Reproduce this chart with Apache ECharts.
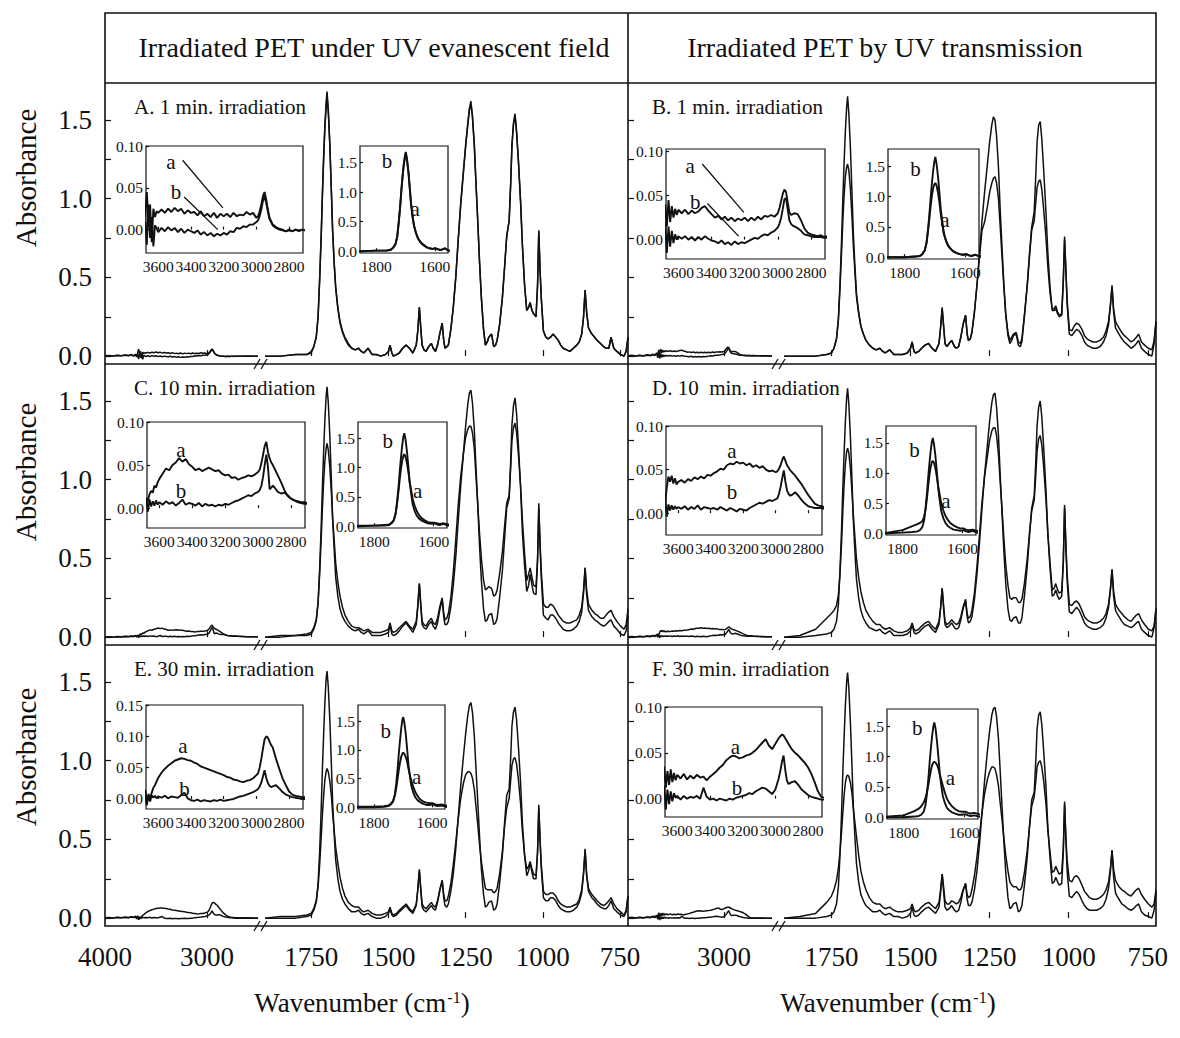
<!DOCTYPE html>
<html><head><meta charset="utf-8">
<script src="https://cdn.jsdelivr.net/npm/echarts/dist/echarts.min.js"></script>
<style>html,body{margin:0;padding:0;background:#fff}#c{width:1180px;height:1038px}</style>
</head><body><div id="c"></div>
<script>
// ---------------- DATA ----------------
const W_HI = [4000,3960,3920,3880,3840,3800,3770,3740,3720,3700,
3690,3680,3670,3660,3650,3640,3630,3620,3610,3600,
3580,3560,3540,3520,3500,3480,3460,3440,3420,3400,
3380,3360,3340,3320,3300,3280,3260,3240,3220,3200,
3180,3160,3140,3120,3100,3080,3060,3040,3020,3000,
2990,2980,2970,2960,2950,2940,2930,2920,2910,2900,
2880,2860,2840,2820,2800,2780,2760,2740,2720,2700,
2650,2600,2550,2500];

const W_LO = [1900,1850,1800,1765,1750,1742,1734,1728,1723,1718,
1714,1710,1706,1702,1699,1695,1690,1685,1681,1676,
1671,1664,1657,1649,1641,1630,1619,1608,1597,1588,
1580,1566,1553,1540,1525,1510,1500,1495,1489,1484,
1474,1465,1454,1443,1432,1421,1410,1405,1400,1395,
1391,1385,1378,1370,1361,1355,1348,1341,1334,1326,
1321,1317,1311,1306,1298,1290,1282,1274,1266,1257,
1250,1243,1238,1233,1228,1222,1217,1211,1205,1199,
1192,1186,1180,1175,1166,1159,1153,1148,1140,1131,
1124,1117,1109,1104,1100,1095,1090,1085,1079,1072,
1066,1059,1052,1046,1041,1035,1030,1022,1017,1013,
1009,1005,998,990,983,975,967,958,950,942,
934,923,912,901,890,882,874,868,863,858,
852,847,841,832,824,813,803,795,786,779,
770,760,748,737,730,724];

// Panel A (1 min, evanescent)
const A_HI_A = [0.002,0.004,0.001,0.005,0.003,0.008,0.004,0.010,0.002,0.012,
0.004,0.018,0.045,0.010,0.030,-0.015,0.025,0.015,0.022,0.020,
0.024,0.020,0.025,0.021,0.026,0.022,0.025,0.019,0.023,0.020,
0.021,0.017,0.022,0.016,0.019,0.015,0.020,0.014,0.019,0.016,
0.019,0.015,0.020,0.016,0.018,0.017,0.021,0.018,0.020,0.014,
0.016,0.022,0.030,0.040,0.045,0.036,0.024,0.014,0.010,0.006,
0.003,0.001,0.000,-0.002,0.000,-0.002,0.000,-0.001,0.000,-0.001,
0.000,0.001,0.000,0.000];
const A_HI_B = [0.001,0.003,0.000,0.004,0.002,0.006,0.002,0.008,0.000,0.010,
-0.005,0.010,-0.018,0.030,-0.010,0.015,-0.020,0.005,0.002,-0.003,
0.002,-0.002,0.003,-0.001,0.002,-0.003,0.001,-0.004,0.000,-0.002,
-0.004,-0.001,-0.006,-0.003,-0.007,-0.004,-0.008,-0.005,-0.007,-0.004,
-0.006,-0.002,-0.003,0.002,0.001,0.004,0.003,0.006,0.006,0.009,
0.011,0.016,0.024,0.034,0.040,0.032,0.022,0.013,0.009,0.005,
0.002,0.000,-0.001,-0.002,-0.001,-0.002,0.000,-0.002,0.000,-0.001,
0.000,0.000,0.000,0.000];
const A_LO_A = [0.00,0.00,0.01,0.01,0.03,0.06,0.12,0.25,0.48,0.75,
1.02,1.25,1.45,1.58,1.65,1.55,1.34,1.05,0.80,0.60,
0.44,0.31,0.22,0.16,0.12,0.08,0.05,0.04,0.05,0.03,
0.02,0.05,0.01,0.01,0.00,0.01,0.03,0.07,0.02,0.00,
0.01,0.02,0.05,0.07,0.05,0.02,0.07,0.16,0.31,0.17,
0.07,0.04,0.03,0.06,0.08,0.05,0.03,0.07,0.14,0.21,
0.10,0.05,0.06,0.07,0.17,0.31,0.50,0.74,0.96,1.17,
1.33,1.47,1.56,1.60,1.52,1.34,1.12,0.87,0.60,0.37,
0.17,0.07,0.09,0.12,0.14,0.06,0.07,0.10,0.20,0.37,
0.56,0.76,0.86,1.10,1.34,1.47,1.53,1.42,1.24,0.98,
0.70,0.45,0.29,0.31,0.34,0.29,0.27,0.25,0.45,0.79,
0.55,0.37,0.16,0.12,0.11,0.12,0.14,0.12,0.10,0.07,
0.05,0.04,0.03,0.05,0.07,0.09,0.14,0.25,0.42,0.28,
0.18,0.16,0.14,0.12,0.10,0.08,0.06,0.05,0.05,0.12,
0.05,0.03,0.01,0.00,0.03,0.12];
const A_LO_B = [0.00,0.00,0.01,0.01,0.02,0.06,0.12,0.25,0.49,0.77,
1.04,1.27,1.47,1.61,1.68,1.57,1.35,1.05,0.80,0.59,
0.43,0.30,0.21,0.15,0.11,0.07,0.05,0.04,0.05,0.03,
0.02,0.05,0.01,0.01,0.00,0.01,0.03,0.07,0.02,0.00,
0.01,0.02,0.05,0.07,0.05,0.02,0.07,0.16,0.31,0.17,
0.07,0.04,0.03,0.06,0.08,0.05,0.03,0.07,0.14,0.21,
0.10,0.05,0.06,0.07,0.17,0.31,0.50,0.74,0.97,1.18,
1.34,1.48,1.57,1.62,1.53,1.35,1.12,0.87,0.60,0.37,
0.17,0.07,0.09,0.12,0.14,0.06,0.07,0.10,0.20,0.37,
0.56,0.76,0.86,1.10,1.34,1.48,1.54,1.43,1.24,0.98,
0.70,0.45,0.29,0.31,0.34,0.29,0.27,0.25,0.45,0.80,
0.55,0.37,0.16,0.12,0.11,0.12,0.14,0.12,0.10,0.07,
0.05,0.04,0.03,0.05,0.07,0.09,0.14,0.25,0.42,0.28,
0.18,0.16,0.14,0.12,0.10,0.08,0.06,0.05,0.05,0.12,
0.05,0.03,0.01,0.00,0.03,0.12];

// Panel B (1 min, transmission)
const B_HI_A = [0.002,0.005,0.001,0.006,0.003,0.009,0.005,0.012,0.008,0.020,
0.010,0.040,0.015,0.045,0.020,0.038,0.025,0.035,0.028,0.034,
0.030,0.034,0.029,0.033,0.030,0.032,0.036,0.038,0.033,0.029,
0.025,0.027,0.023,0.026,0.022,0.025,0.021,0.024,0.022,0.025,
0.021,0.025,0.022,0.026,0.023,0.027,0.026,0.028,0.026,0.030,
0.036,0.044,0.052,0.057,0.054,0.042,0.031,0.028,0.029,0.030,
0.029,0.022,0.013,0.008,0.006,0.005,0.004,0.005,0.003,0.004,
0.003,0.002,0.002,0.001];
const B_HI_B = [0.001,0.003,0.000,0.004,0.001,0.006,0.002,0.009,0.004,0.014,
-0.010,0.020,-0.015,0.015,-0.008,0.010,-0.004,0.006,0.000,0.004,
0.001,0.004,0.000,0.003,-0.001,0.003,0.000,0.004,0.001,-0.001,
-0.002,-0.004,-0.001,-0.005,-0.003,-0.006,-0.002,-0.005,-0.003,-0.004,
-0.002,0.000,0.002,0.001,0.004,0.006,0.005,0.008,0.010,0.014,
0.018,0.025,0.035,0.046,0.047,0.034,0.022,0.018,0.016,0.015,
0.013,0.010,0.006,0.005,0.004,0.003,0.003,0.003,0.002,0.002,
0.002,0.001,0.001,0.001];
const B_LO_A = [0.00,0.00,0.00,0.01,0.02,0.05,0.11,0.23,0.43,0.66,
0.86,1.02,1.14,1.20,1.22,1.18,1.06,0.88,0.71,0.54,
0.38,0.27,0.19,0.14,0.10,0.07,0.05,0.04,0.05,0.03,
0.02,0.04,0.01,0.01,0.01,0.02,0.05,0.09,0.03,0.02,
0.03,0.05,0.07,0.08,0.05,0.03,0.08,0.18,0.30,0.18,
0.08,0.06,0.08,0.10,0.06,0.05,0.06,0.12,0.20,0.26,
0.14,0.10,0.11,0.15,0.28,0.45,0.63,0.80,0.85,0.95,
1.04,1.10,1.13,1.14,1.10,1.00,0.84,0.64,0.44,0.27,
0.15,0.10,0.12,0.14,0.15,0.09,0.08,0.11,0.26,0.45,
0.63,0.80,0.86,0.98,1.07,1.11,1.12,1.06,0.93,0.76,
0.57,0.40,0.30,0.30,0.32,0.28,0.26,0.27,0.48,0.74,
0.55,0.36,0.17,0.16,0.19,0.21,0.20,0.17,0.13,0.11,
0.10,0.09,0.09,0.10,0.12,0.16,0.22,0.33,0.44,0.30,
0.22,0.20,0.18,0.15,0.13,0.11,0.09,0.10,0.12,0.14,
0.09,0.07,0.05,0.04,0.10,0.22];
const B_LO_B = [0.00,0.00,0.00,0.01,0.02,0.05,0.11,0.24,0.46,0.74,
1.00,1.23,1.43,1.58,1.65,1.54,1.32,1.03,0.79,0.58,
0.40,0.28,0.19,0.14,0.10,0.07,0.05,0.04,0.05,0.03,
0.02,0.04,0.01,0.01,0.01,0.02,0.05,0.09,0.03,0.02,
0.03,0.05,0.07,0.08,0.05,0.03,0.08,0.18,0.31,0.18,
0.08,0.06,0.08,0.10,0.06,0.05,0.06,0.12,0.20,0.26,
0.14,0.10,0.11,0.15,0.28,0.45,0.65,0.86,1.04,1.22,
1.36,1.47,1.52,1.50,1.40,1.20,0.95,0.70,0.46,0.26,
0.13,0.08,0.10,0.13,0.14,0.07,0.06,0.09,0.25,0.45,
0.65,0.82,0.92,1.15,1.36,1.47,1.49,1.38,1.18,0.92,
0.66,0.44,0.29,0.29,0.30,0.27,0.25,0.26,0.48,0.76,
0.55,0.33,0.14,0.13,0.15,0.17,0.16,0.13,0.09,0.07,
0.06,0.05,0.05,0.06,0.09,0.13,0.20,0.32,0.45,0.28,
0.18,0.16,0.14,0.11,0.09,0.07,0.05,0.06,0.08,0.10,
0.05,0.03,0.01,0.00,0.08,0.22];

// Panel C (10 min, evanescent)
const C_HI_A = [0.001,0.003,0.000,0.004,0.002,0.006,0.004,0.008,0.005,0.010,
0.004,0.012,0.008,0.016,0.020,0.018,0.026,0.024,0.030,0.034,
0.040,0.046,0.044,0.050,0.053,0.058,0.054,0.057,0.051,0.048,
0.044,0.046,0.043,0.045,0.047,0.045,0.043,0.044,0.040,0.038,
0.039,0.035,0.036,0.033,0.035,0.036,0.038,0.037,0.039,0.042,
0.045,0.052,0.062,0.072,0.077,0.065,0.058,0.053,0.050,0.046,
0.038,0.030,0.021,0.014,0.011,0.009,0.008,0.007,0.007,0.006,
0.004,0.003,0.002,0.002];
const C_HI_B = [0.001,0.002,0.000,0.003,0.001,0.004,0.002,0.006,0.003,0.008,
0.000,0.012,-0.004,0.010,0.002,0.008,0.003,0.009,0.004,0.007,
0.004,0.008,0.005,0.007,0.003,0.006,0.010,0.004,0.006,0.005,
0.003,0.006,0.002,0.005,0.003,0.004,0.002,0.004,0.003,0.005,
0.004,0.006,0.008,0.009,0.011,0.013,0.015,0.014,0.017,0.019,
0.021,0.026,0.036,0.050,0.062,0.048,0.022,0.024,0.026,0.024,
0.019,0.017,0.018,0.015,0.011,0.009,0.007,0.006,0.005,0.005,
0.004,0.003,0.002,0.002];
const C_LO_A = [0.00,0.01,0.01,0.02,0.03,0.06,0.11,0.22,0.40,0.62,
0.82,0.99,1.12,1.20,1.23,1.19,1.08,0.92,0.76,0.62,
0.47,0.35,0.26,0.19,0.14,0.10,0.07,0.06,0.06,0.05,
0.04,0.05,0.03,0.03,0.03,0.04,0.05,0.09,0.04,0.03,
0.04,0.06,0.08,0.10,0.07,0.05,0.10,0.20,0.34,0.20,
0.10,0.08,0.07,0.10,0.12,0.09,0.08,0.12,0.19,0.25,
0.15,0.11,0.12,0.15,0.25,0.41,0.62,0.84,1.02,1.17,
1.27,1.32,1.34,1.34,1.30,1.20,1.04,0.85,0.66,0.50,
0.36,0.30,0.31,0.32,0.31,0.26,0.27,0.30,0.40,0.54,
0.70,0.85,0.90,1.08,1.25,1.33,1.36,1.30,1.16,0.96,
0.74,0.53,0.36,0.40,0.44,0.38,0.33,0.32,0.50,0.82,
0.60,0.42,0.21,0.19,0.19,0.21,0.20,0.17,0.14,0.12,
0.10,0.09,0.09,0.10,0.11,0.14,0.19,0.30,0.44,0.30,
0.21,0.19,0.17,0.15,0.14,0.12,0.12,0.14,0.16,0.17,
0.13,0.10,0.07,0.05,0.08,0.18];
const C_LO_B = [0.00,0.00,0.01,0.01,0.02,0.05,0.10,0.22,0.43,0.70,
0.96,1.18,1.38,1.53,1.59,1.49,1.28,1.00,0.76,0.56,
0.38,0.26,0.18,0.13,0.10,0.07,0.05,0.04,0.05,0.03,
0.02,0.04,0.01,0.01,0.01,0.02,0.03,0.08,0.02,0.01,
0.02,0.04,0.07,0.09,0.06,0.03,0.08,0.19,0.34,0.19,
0.08,0.06,0.05,0.08,0.10,0.07,0.05,0.09,0.17,0.24,
0.13,0.08,0.08,0.10,0.19,0.33,0.51,0.74,0.96,1.17,
1.34,1.48,1.55,1.57,1.49,1.32,1.10,0.85,0.58,0.36,
0.18,0.10,0.11,0.14,0.15,0.08,0.09,0.12,0.25,0.42,
0.62,0.82,0.88,1.12,1.35,1.47,1.52,1.42,1.22,0.95,
0.66,0.45,0.29,0.33,0.40,0.33,0.28,0.27,0.48,0.85,
0.58,0.38,0.14,0.12,0.11,0.14,0.14,0.12,0.09,0.07,
0.05,0.04,0.04,0.05,0.07,0.10,0.16,0.28,0.44,0.27,
0.17,0.15,0.13,0.11,0.10,0.08,0.07,0.08,0.10,0.11,
0.07,0.05,0.02,0.01,0.04,0.14];

// Panel D (10 min, transmission)
const D_HI_A = [0.002,0.004,0.001,0.005,0.003,0.007,0.006,0.010,0.008,0.015,
0.020,0.012,0.030,0.042,0.036,0.043,0.034,0.040,0.033,0.036,
0.038,0.035,0.039,0.037,0.041,0.039,0.042,0.040,0.044,0.043,
0.046,0.048,0.051,0.050,0.055,0.057,0.056,0.059,0.057,0.058,
0.055,0.057,0.053,0.055,0.052,0.054,0.050,0.048,0.049,0.047,
0.048,0.051,0.055,0.061,0.065,0.060,0.055,0.052,0.049,0.047,
0.043,0.038,0.033,0.027,0.021,0.016,0.011,0.009,0.008,0.007,
0.005,0.004,0.003,0.002];
const D_HI_B = [0.001,0.003,0.000,0.004,0.002,0.005,0.003,0.008,0.004,0.012,
0.000,0.015,-0.004,0.010,0.003,0.009,0.004,0.008,0.005,0.007,
0.005,0.008,0.004,0.007,0.005,0.009,0.004,0.007,0.006,0.005,
0.006,0.004,0.007,0.005,0.003,0.006,0.004,0.002,0.005,0.004,
0.003,0.006,0.008,0.010,0.012,0.011,0.013,0.015,0.014,0.016,
0.017,0.022,0.030,0.040,0.049,0.036,0.026,0.022,0.020,0.021,
0.024,0.020,0.015,0.011,0.008,0.007,0.006,0.006,0.006,0.005,
0.004,0.003,0.002,0.002];
const D_LO_A = [0.00,0.01,0.05,0.12,0.15,0.17,0.20,0.27,0.40,0.60,
0.80,0.97,1.10,1.18,1.20,1.17,1.07,0.92,0.78,0.64,
0.50,0.38,0.29,0.22,0.17,0.13,0.10,0.08,0.08,0.06,
0.05,0.06,0.04,0.03,0.03,0.04,0.06,0.09,0.05,0.04,
0.05,0.07,0.09,0.10,0.07,0.05,0.10,0.19,0.31,0.19,
0.10,0.08,0.09,0.11,0.09,0.08,0.09,0.13,0.19,0.24,
0.15,0.12,0.13,0.17,0.28,0.45,0.65,0.86,1.02,1.15,
1.25,1.31,1.33,1.33,1.28,1.16,1.00,0.82,0.63,0.46,
0.33,0.25,0.24,0.25,0.25,0.22,0.22,0.24,0.34,0.50,
0.66,0.80,0.87,1.03,1.18,1.26,1.28,1.22,1.08,0.88,
0.66,0.47,0.30,0.31,0.34,0.30,0.28,0.29,0.48,0.82,
0.60,0.40,0.21,0.20,0.22,0.23,0.21,0.17,0.13,0.11,
0.10,0.09,0.09,0.10,0.12,0.15,0.21,0.31,0.43,0.29,
0.21,0.19,0.17,0.15,0.13,0.11,0.10,0.12,0.14,0.15,
0.11,0.08,0.05,0.04,0.07,0.18];
const D_LO_B = [0.00,0.00,0.01,0.02,0.03,0.05,0.10,0.21,0.42,0.69,
0.95,1.17,1.37,1.52,1.58,1.48,1.27,0.99,0.75,0.55,
0.37,0.25,0.17,0.12,0.09,0.06,0.05,0.04,0.05,0.03,
0.02,0.04,0.01,0.01,0.01,0.02,0.04,0.08,0.03,0.02,
0.03,0.05,0.07,0.08,0.05,0.03,0.08,0.18,0.31,0.17,
0.08,0.06,0.07,0.09,0.06,0.05,0.06,0.11,0.18,0.23,
0.13,0.09,0.10,0.13,0.24,0.40,0.60,0.82,1.03,1.22,
1.37,1.49,1.54,1.55,1.46,1.28,1.05,0.80,0.55,0.34,
0.18,0.11,0.10,0.12,0.13,0.09,0.09,0.12,0.26,0.45,
0.64,0.82,0.90,1.12,1.34,1.46,1.50,1.40,1.20,0.94,
0.66,0.44,0.26,0.27,0.30,0.26,0.24,0.26,0.48,0.84,
0.58,0.36,0.16,0.15,0.17,0.19,0.17,0.13,0.09,0.07,
0.06,0.05,0.05,0.06,0.08,0.12,0.19,0.30,0.43,0.26,
0.17,0.15,0.13,0.10,0.08,0.07,0.06,0.07,0.09,0.10,
0.05,0.03,0.01,0.00,0.06,0.18];

// Panel E (30 min, evanescent)
const E_HI_A = [0.002,0.004,0.001,0.005,0.003,0.006,0.004,0.009,0.005,0.012,
0.000,0.015,-0.008,0.006,0.002,0.010,0.018,0.022,0.028,0.034,
0.042,0.048,0.053,0.057,0.061,0.063,0.065,0.064,0.062,0.061,
0.058,0.056,0.052,0.050,0.048,0.046,0.044,0.042,0.040,0.038,
0.035,0.034,0.031,0.030,0.028,0.027,0.029,0.030,0.033,0.038,
0.041,0.050,0.064,0.080,0.095,0.100,0.098,0.092,0.086,0.082,
0.064,0.048,0.033,0.022,0.012,0.007,0.005,0.004,0.003,0.003,
0.002,0.002,0.001,0.001];
const E_HI_B = [0.001,0.003,0.000,0.004,0.002,0.005,0.003,0.007,0.004,0.010,
-0.006,0.012,-0.010,0.008,-0.004,0.006,0.002,0.005,0.001,0.004,
0.002,0.005,0.001,0.004,0.003,0.002,0.006,0.010,0.001,-0.002,
-0.003,-0.001,-0.004,-0.002,-0.003,-0.004,-0.002,-0.003,-0.001,-0.003,
-0.002,-0.001,0.000,0.002,0.004,0.005,0.007,0.009,0.011,0.014,
0.016,0.020,0.026,0.036,0.046,0.034,0.026,0.021,0.019,0.020,
0.022,0.017,0.011,0.007,0.005,0.003,0.002,0.001,0.000,0.000,
0.000,0.000,0.000,0.000];
const E_LO_A = [0.00,0.01,0.01,0.02,0.03,0.06,0.11,0.20,0.34,0.51,
0.66,0.78,0.88,0.93,0.95,0.93,0.87,0.78,0.67,0.56,
0.45,0.35,0.26,0.19,0.14,0.10,0.08,0.07,0.07,0.05,
0.04,0.05,0.03,0.02,0.02,0.03,0.04,0.07,0.03,0.02,
0.03,0.05,0.07,0.09,0.06,0.04,0.09,0.18,0.30,0.18,
0.09,0.07,0.06,0.08,0.10,0.08,0.07,0.11,0.18,0.24,
0.15,0.11,0.11,0.14,0.22,0.34,0.48,0.63,0.76,0.86,
0.91,0.93,0.93,0.92,0.89,0.82,0.72,0.60,0.47,0.36,
0.26,0.19,0.18,0.18,0.18,0.16,0.17,0.19,0.28,0.42,
0.58,0.70,0.76,0.88,0.97,1.01,1.02,0.98,0.88,0.73,
0.55,0.40,0.31,0.33,0.36,0.31,0.28,0.27,0.42,0.70,
0.50,0.34,0.17,0.15,0.15,0.16,0.16,0.14,0.11,0.09,
0.08,0.07,0.07,0.08,0.09,0.12,0.18,0.29,0.43,0.28,
0.19,0.17,0.15,0.13,0.11,0.09,0.08,0.09,0.11,0.13,
0.09,0.06,0.04,0.02,0.05,0.14];
const E_LO_B = [0.00,0.00,0.00,0.01,0.02,0.05,0.10,0.22,0.42,0.69,
0.95,1.17,1.37,1.52,1.57,1.47,1.26,0.98,0.74,0.54,
0.37,0.25,0.17,0.12,0.09,0.06,0.04,0.04,0.05,0.03,
0.02,0.03,0.01,0.00,0.00,0.01,0.03,0.06,0.02,0.01,
0.02,0.04,0.06,0.08,0.05,0.03,0.08,0.18,0.31,0.17,
0.07,0.05,0.04,0.06,0.08,0.06,0.05,0.10,0.17,0.24,
0.13,0.08,0.07,0.09,0.17,0.28,0.44,0.64,0.84,1.03,
1.17,1.29,1.35,1.37,1.31,1.16,0.97,0.75,0.52,0.31,
0.15,0.07,0.08,0.10,0.11,0.05,0.06,0.09,0.22,0.40,
0.60,0.78,0.82,1.02,1.22,1.31,1.34,1.26,1.09,0.86,
0.60,0.40,0.27,0.30,0.35,0.29,0.25,0.25,0.42,0.72,
0.50,0.32,0.13,0.11,0.11,0.13,0.13,0.11,0.08,0.06,
0.05,0.04,0.04,0.05,0.07,0.10,0.16,0.28,0.44,0.27,
0.17,0.15,0.13,0.11,0.09,0.07,0.06,0.06,0.08,0.11,
0.06,0.04,0.02,0.01,0.04,0.14];

// Panel F (30 min, transmission)
const F_HI_A = [0.002,0.005,0.001,0.006,0.003,0.008,0.005,0.012,0.010,0.018,
0.008,0.035,0.012,0.030,0.015,0.032,0.018,0.028,0.020,0.026,
0.022,0.027,0.021,0.025,0.022,0.026,0.023,0.024,0.020,0.024,
0.027,0.030,0.034,0.037,0.042,0.045,0.047,0.046,0.044,0.045,
0.047,0.048,0.050,0.053,0.057,0.061,0.065,0.058,0.054,0.060,
0.063,0.066,0.068,0.070,0.069,0.066,0.063,0.060,0.057,0.054,
0.050,0.047,0.043,0.039,0.034,0.027,0.018,0.008,0.002,0.001,
0.001,0.001,0.000,0.000];
const F_HI_B = [0.001,0.003,0.000,0.004,0.001,0.005,0.002,0.008,0.004,0.012,
-0.008,0.014,-0.012,0.010,-0.006,0.008,-0.003,0.006,0.001,0.003,
-0.001,0.003,0.000,0.002,0.001,0.003,0.000,0.012,0.002,-0.001,
0.000,-0.002,0.000,-0.001,-0.002,0.000,-0.001,0.001,0.002,0.003,
0.004,0.006,0.005,0.008,0.010,0.012,0.011,0.008,0.005,0.010,
0.016,0.022,0.030,0.040,0.047,0.032,0.020,0.016,0.017,0.018,
0.019,0.015,0.010,0.007,0.004,0.002,0.001,0.000,-0.001,-0.001,
0.000,0.000,0.000,0.000];
const F_LO_A = [0.00,0.01,0.03,0.10,0.14,0.18,0.24,0.32,0.42,0.55,
0.67,0.78,0.86,0.90,0.91,0.90,0.86,0.79,0.70,0.61,
0.52,0.40,0.30,0.23,0.18,0.13,0.10,0.09,0.09,0.07,
0.06,0.07,0.05,0.04,0.04,0.05,0.06,0.09,0.05,0.04,
0.05,0.07,0.09,0.10,0.08,0.06,0.10,0.18,0.28,0.19,
0.11,0.09,0.09,0.11,0.10,0.09,0.10,0.13,0.18,0.22,
0.15,0.13,0.14,0.18,0.27,0.39,0.53,0.67,0.79,0.88,
0.93,0.96,0.96,0.95,0.91,0.84,0.74,0.63,0.51,0.40,
0.30,0.23,0.21,0.20,0.20,0.18,0.18,0.20,0.29,0.43,
0.58,0.71,0.77,0.87,0.96,0.99,1.00,0.96,0.87,0.73,
0.56,0.42,0.29,0.30,0.33,0.30,0.28,0.29,0.45,0.72,
0.52,0.37,0.24,0.23,0.26,0.27,0.25,0.21,0.17,0.15,
0.13,0.12,0.12,0.13,0.15,0.18,0.23,0.32,0.43,0.31,
0.24,0.22,0.20,0.18,0.17,0.15,0.14,0.16,0.18,0.19,
0.15,0.12,0.09,0.07,0.09,0.18];
const F_LO_B = [0.00,0.00,0.00,0.01,0.02,0.04,0.09,0.20,0.40,0.67,
0.93,1.15,1.35,1.50,1.56,1.46,1.24,0.96,0.72,0.52,
0.35,0.23,0.15,0.11,0.08,0.06,0.04,0.04,0.05,0.03,
0.02,0.03,0.01,0.01,0.00,0.01,0.03,0.07,0.02,0.01,
0.02,0.04,0.06,0.07,0.05,0.03,0.07,0.16,0.28,0.16,
0.07,0.05,0.06,0.08,0.05,0.04,0.05,0.10,0.17,0.22,
0.12,0.08,0.08,0.10,0.18,0.30,0.47,0.67,0.87,1.06,
1.19,1.29,1.33,1.34,1.28,1.14,0.95,0.72,0.49,0.29,
0.13,0.06,0.07,0.09,0.10,0.04,0.05,0.08,0.21,0.39,
0.58,0.75,0.80,1.00,1.20,1.29,1.31,1.23,1.06,0.84,
0.58,0.38,0.22,0.23,0.26,0.23,0.21,0.22,0.42,0.74,
0.50,0.30,0.14,0.13,0.15,0.17,0.15,0.11,0.08,0.06,
0.05,0.05,0.05,0.06,0.08,0.12,0.19,0.30,0.43,0.26,
0.16,0.14,0.12,0.09,0.08,0.06,0.05,0.06,0.08,0.09,
0.04,0.02,0.01,0.00,0.05,0.16];

// Tick / label values
const Y_TICKS = [0, 0.25, 0.5, 0.75, 1.0, 1.25, 1.5];
const Y_LABELS = [0, 0.5, 1.0, 1.5];
const X_HI_TICKS = [3000];
const X_HI_LABELS_LEFT = [4000, 3000];
const X_HI_LABELS_RIGHT = [3000];
const X_LO_TICKS = [1750, 1500, 1250, 1000, 750];
const IN1_X_TICKS = [3600, 3400, 3200, 3000, 2800];
const IN1_Y_TICKS = [0, 0.05, 0.10];
const IN1_Y_TICKS_E = [0, 0.05, 0.10, 0.15];
const IN2_X_TICKS = [1800, 1600];
const IN2_Y_TICKS = [0, 0.5, 1.0, 1.5];

// Text
const COLUMN_TITLES = ['Irradiated PET under UV evanescent field', 'Irradiated PET by UV transmission'];
const PANEL_TITLES = ['A. 1 min. irradiation', 'B. 1 min. irradiation', 'C. 10 min. irradiation',
  'D. 10  min. irradiation', 'E. 30 min. irradiation', 'F. 30 min. irradiation'];
const Y_TITLE = 'Absorbance';

// Curve labels inside the insets: [text, wavenumber, absorbance]
const IN1_LABELS_A = [['a', 3523, 0.081], ['b', 3492, 0.045]];
const IN1_LABELS_B = [['a', 3529, 0.084], ['b', 3498, 0.043]];
const IN1_LABELS_C = [['a', 3469, 0.068], ['b', 3469, 0.020]];
const IN1_LABELS_D = [['a', 3269, 0.071], ['b', 3269, 0.024]];
const IN1_LABELS_E = [['a', 3449, 0.084], ['b', 3439, 0.016]];
const IN1_LABELS_F = [['a', 3244, 0.056], ['b', 3234, 0.012]];
const IN2_LABELS_A = [['b', 1763, 1.53], ['a', 1667, 0.71]];
const IN2_LABELS_B = [['b', 1764, 1.45], ['a', 1667, 0.61]];
const IN2_LABELS_C = [['b', 1755, 1.45], ['a', 1654, 0.61]];
const IN2_LABELS_D = [['b', 1760, 1.38], ['a', 1655, 0.54]];
const IN2_LABELS_E = [['b', 1759, 1.33], ['a', 1653, 0.52]];
const IN2_LABELS_F = [['b', 1755, 1.47], ['a', 1646, 0.65]];
// leader lines in insets A and B: [[w1,v1],[w2,v2]]
const IN1_LEADERS_A = [[[3451, 0.083], [3205, 0.026]], [[3441, 0.039], [3236, 0.0]]];
const IN1_LEADERS_B = [[[3456, 0.086], [3205, 0.031]], [[3425, 0.041], [3237, 0.004]]];

// ---------------- LAYOUT ----------------
const FONT = "'Liberation Serif','Times New Roman',Times,serif";
const INK = '#111';
const COLS = [{L:105, hiR:258, loL:265, R:628, brk:254}, {L:628, hiR:772, loL:784, R:1156, brk:772}];
const ROWS = [{T:83, B:364}, {T:364, B:645}, {T:645, B:926}];
const INSET1 = [[146,146,303,253],[666,149,825,259],[147,422,305,528],[666,426,822,535],[146,705,303,809],[665,707,822,817]];
const INSET2 = [[360,146,448,253],[888,149,979,259],[358,422,447,528],[886,426,976,535],[358,705,445,809],[887,709,978,819]];
const IN1_YRANGE = [[-0.028,0.10],[-0.022,0.103],[-0.023,0.10],[-0.025,0.10],[-0.016,0.15],[-0.02,0.10]];

const PANELS = [
  {hi:[A_HI_A,A_HI_B], lo:[A_LO_A,A_LO_B], l1:IN1_LABELS_A, l2:IN2_LABELS_A, lead:IN1_LEADERS_A, t1:IN1_Y_TICKS},
  {hi:[B_HI_A,B_HI_B], lo:[B_LO_A,B_LO_B], l1:IN1_LABELS_B, l2:IN2_LABELS_B, lead:IN1_LEADERS_B, t1:IN1_Y_TICKS},
  {hi:[C_HI_A,C_HI_B], lo:[C_LO_A,C_LO_B], l1:IN1_LABELS_C, l2:IN2_LABELS_C, lead:null, t1:IN1_Y_TICKS},
  {hi:[D_HI_A,D_HI_B], lo:[D_LO_A,D_LO_B], l1:IN1_LABELS_D, l2:IN2_LABELS_D, lead:null, t1:IN1_Y_TICKS},
  {hi:[E_HI_A,E_HI_B], lo:[E_LO_A,E_LO_B], l1:IN1_LABELS_E, l2:IN2_LABELS_E, lead:null, t1:IN1_Y_TICKS_E},
  {hi:[F_HI_A,F_HI_B], lo:[F_LO_A,F_LO_B], l1:IN1_LABELS_F, l2:IN2_LABELS_F, lead:null, t1:IN1_Y_TICKS}
];
PANELS.forEach((p,i)=>{
  p.hi.forEach(a=>{ if(a.length!==W_HI.length) throw new Error('hi len panel '+i+': '+a.length); });
  p.lo.forEach(a=>{ if(a.length!==W_LO.length) throw new Error('lo len panel '+i+': '+a.length); });
});

// ---------------- BUILD ----------------
const grid=[], xAxis=[], yAxis=[], series=[], graphic=[];
const pairs = (W, V) => W.map((w,i)=>[w, V[i]]);
const plain = v => String(Math.round(Number(v)));
const tickLine = {color: INK, width: 1.2};
function addGrid(x0,y0,x1,y1,extra){ grid.push(Object.assign({left:x0, top:y0, width:x1-x0, height:y1-y0}, extra||{})); return grid.length-1; }
function lbl(extra){ return Object.assign({color:INK, fontFamily:FONT, hideOverlap:false}, extra); }

PANELS.forEach((p,k)=>{
  const c = k%2, r = Math.floor(k/2);
  const col = COLS[c], row = ROWS[r];
  const bottom = (r===2);
  // main: high-wavenumber segment
  const gh = addGrid(col.L, row.T, col.hiR, row.B);
  xAxis.push({gridIndex:gh, type:'value', inverse:true, min:2500, max:4000,
    axisLine:{show:false}, splitLine:{show:false},
    axisTick:{show:true, inside:true, length:6, customValues:X_HI_TICKS, lineStyle:tickLine},
    axisLabel:lbl({show:bottom, customValues: c===0?X_HI_LABELS_LEFT:X_HI_LABELS_RIGHT, formatter:plain, fontSize:27, margin:17})});
  yAxis.push({gridIndex:gh, type:'value', min:-0.05, max:1.735,
    axisLine:{show:false}, splitLine:{show:false},
    axisTick:{show:true, inside:true, length:6, customValues:Y_TICKS, lineStyle:tickLine},
    axisLabel:lbl({show:c===0, customValues:Y_LABELS, formatter:v=>Number(v).toFixed(1), fontSize:27, margin:13})});
  // main: low-wavenumber segment
  const gl = addGrid(col.loL, row.T, col.R, row.B);
  xAxis.push({gridIndex:gl, type:'value', inverse:true, min:724, max:1900,
    axisLine:{show:false}, splitLine:{show:false},
    axisTick:{show:true, inside:true, length:6, customValues:X_LO_TICKS, lineStyle:tickLine},
    axisLabel:lbl({show:bottom, customValues:X_LO_TICKS, formatter:plain, fontSize:27, margin:17})});
  yAxis.push({gridIndex:gl, type:'value', min:-0.05, max:1.735, show:false});
  [0,1].forEach(j=>{
    series.push({type:'line', xAxisIndex:gh, yAxisIndex:gh, data:pairs(W_HI,p.hi[j]), symbol:'none', silent:true,
      lineStyle:{color:INK, width:1.5}});
    series.push({type:'line', xAxisIndex:gl, yAxisIndex:gl, data:pairs(W_LO,p.lo[j]), symbol:'none', silent:true,
      lineStyle:{color:INK, width:1.5}});
  });
  // inset 1 (C-H region)
  const b1 = INSET1[k];
  const g1 = addGrid(b1[0], b1[1], b1[2], b1[3], {show:true, backgroundColor:'#fff', borderColor:INK, borderWidth:1.2});
  xAxis.push({gridIndex:g1, type:'value', inverse:true, min:2715, max:3675,
    axisLine:{show:false}, splitLine:{show:false},
    axisTick:{show:true, inside:true, length:3, customValues:IN1_X_TICKS, lineStyle:tickLine},
    axisLabel:lbl({customValues:IN1_X_TICKS, formatter:plain, fontSize:15.5, margin:5, showMinLabel:true, showMaxLabel:true})});
  yAxis.push({gridIndex:g1, type:'value', min:IN1_YRANGE[k][0], max:IN1_YRANGE[k][1],
    axisLine:{show:false}, splitLine:{show:false},
    axisTick:{show:true, inside:true, length:3, customValues:p.t1, lineStyle:tickLine},
    axisLabel:lbl({customValues:p.t1, formatter:v=>Number(v).toFixed(2), fontSize:15.5, margin:3})});
  [0,1].forEach(j=>{
    const s = {type:'line', xAxisIndex:g1, yAxisIndex:g1, data:pairs(W_HI,p.hi[j]), symbol:'none', silent:true,
      lineStyle:{color:INK, width:1.9}};
    if(j===0){
      s.markPoint = {symbol:'rect', symbolSize:1, silent:true, itemStyle:{color:'rgba(0,0,0,0)'},
        label:lbl({show:true, position:'inside', formatter:'{b}', fontSize:21}),
        data:p.l1.map(l=>({name:l[0], coord:[l[1], l[2]]}))};
      if(p.lead){
        s.markLine = {symbol:['none','none'], silent:true, label:{show:false},
          lineStyle:{color:INK, width:1.3, type:'solid'},
          data:p.lead.map(l=>[{coord:l[0]},{coord:l[1]}])};
      }
    }
    series.push(s);
  });
  // inset 2 (carbonyl region)
  const b2 = INSET2[k];
  const g2 = addGrid(b2[0], b2[1], b2[2], b2[3], {show:true, backgroundColor:'#fff', borderColor:INK, borderWidth:1.2});
  xAxis.push({gridIndex:g2, type:'value', inverse:true, min:1555, max:1855,
    axisLine:{show:false}, splitLine:{show:false},
    axisTick:{show:true, inside:true, length:3, customValues:IN2_X_TICKS, lineStyle:tickLine},
    axisLabel:lbl({customValues:IN2_X_TICKS, formatter:plain, fontSize:15.5, margin:5})});
  yAxis.push({gridIndex:g2, type:'value', min:-0.03, max:1.78,
    axisLine:{show:false}, splitLine:{show:false},
    axisTick:{show:true, inside:true, length:3, customValues:IN2_Y_TICKS, lineStyle:tickLine},
    axisLabel:lbl({customValues:IN2_Y_TICKS, formatter:v=>Number(v).toFixed(1), fontSize:15.5, margin:3})});
  [0,1].forEach(j=>{
    const s = {type:'line', xAxisIndex:g2, yAxisIndex:g2, data:pairs(W_LO,p.lo[j]), symbol:'none', silent:true,
      lineStyle:{color:INK, width:1.9}};
    if(j===0){
      s.markPoint = {symbol:'rect', symbolSize:1, silent:true, itemStyle:{color:'rgba(0,0,0,0)'},
        label:lbl({show:true, position:'inside', formatter:'{b}', fontSize:21}),
        data:p.l2.map(l=>({name:l[0], coord:[l[1], l[2]]}))};
    }
    series.push(s);
  });
  // panel title
  graphic.push({type:'text', silent:true, style:{text:PANEL_TITLES[k], x: col.L + (c===0?29:24), y: row.T+24,
    fontSize:21, fontFamily:FONT, fill:INK, textAlign:'left', align:'left', textVerticalAlign:'middle', verticalAlign:'middle'}});
  // axis break marks
  [0,7].forEach(d=>{
    graphic.push({type:'line', silent:true, shape:{x1:col.brk+d, y1:row.B+5, x2:col.brk+d+6, y2:row.B-5},
      style:{stroke:INK, lineWidth:1.3}});
  });
});

// frames
const frameStyle = {stroke:INK, lineWidth:1.6, fill:null};
graphic.push({type:'rect', silent:true, shape:{x:105, y:13, width:1051, height:913}, style:{stroke:INK, lineWidth:1.6, fill:'none'}});
graphic.push({type:'line', silent:true, shape:{x1:105, y1:83, x2:1156, y2:83}, style:frameStyle});
graphic.push({type:'line', silent:true, shape:{x1:105, y1:364, x2:1156, y2:364}, style:frameStyle});
graphic.push({type:'line', silent:true, shape:{x1:105, y1:645, x2:1156, y2:645}, style:frameStyle});
graphic.push({type:'line', silent:true, shape:{x1:628, y1:13, x2:628, y2:926}, style:frameStyle});
// column titles
[[374,0],[885,1]].forEach(([x,i])=>{
  graphic.push({type:'text', silent:true, style:{text:COLUMN_TITLES[i], x:x, y:47, fontSize:28, fontFamily:FONT, fill:INK,
    textAlign:'center', align:'center', textVerticalAlign:'middle', verticalAlign:'middle'}});
});
// y titles
[178, 472, 757].forEach(y=>{
  graphic.push({type:'text', silent:true, x:26, y:y, rotation:Math.PI/2,
    style:{text:Y_TITLE, x:0, y:0, fontSize:29, fontFamily:FONT, fill:INK,
      textAlign:'center', align:'center', textVerticalAlign:'middle', verticalAlign:'middle'}});
});
// x titles
[362, 888].forEach(x=>{
  graphic.push({type:'text', silent:true, style:{text:'{a|Wavenumber (cm}{s|-1}{a|)}', x:x, y:1003,
    textAlign:'center', align:'center', textVerticalAlign:'middle', verticalAlign:'middle', fill:INK,
    rich:{a:{fontSize:27, fontFamily:FONT, fill:INK, color:INK}, s:{fontSize:16, fontFamily:FONT, fill:INK, color:INK, verticalAlign:'top', padding:[0,0,0,1]}}}});
});

const chart = echarts.init(document.getElementById('c'), null, {renderer:'svg', width:1180, height:1038});
chart.setOption({animation:false, backgroundColor:'#fff', grid, xAxis, yAxis, series, graphic});
</script>
</body></html>
